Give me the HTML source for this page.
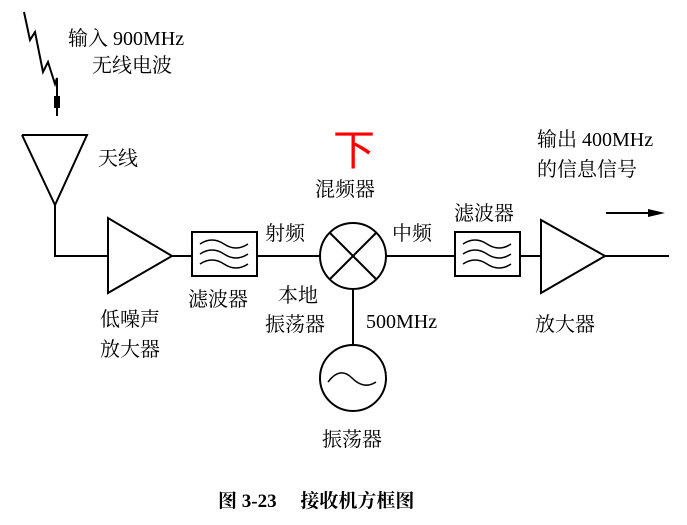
<!DOCTYPE html>
<html><head><meta charset="utf-8"><style>
html,body{margin:0;padding:0;background:#fff;}
svg{display:block;}
text{font-family:"Liberation Serif","Noto Serif CJK SC","Noto Sans CJK SC",serif;fill:#000;font-size:20px;}
</style></head><body>
<svg width="687" height="525" viewBox="0 0 687 525" xmlns="http://www.w3.org/2000/svg">
<g stroke="#000" stroke-width="2" fill="none">
<polyline points="24,12 30,40 35,32 43,72 48,62 55,84 57,78 57,116"/>
<polyline points="22,135 87,135 55,205 22,135"/>
<polyline points="55,205 55,256 108,256"/>
<polygon points="108,218 108,293 172,256"/>
<line x1="172" y1="256" x2="192" y2="256"/>
<rect x="192" y="232" width="65" height="44"/>
<path d="M200,244 q12,-8 24,0 t24,0 M200,254 q12,-8 24,0 t24,0 M200,264 q12,-8 24,0 t24,0" stroke-width="1.5"/>
<line x1="257" y1="256" x2="320" y2="256"/>
<circle cx="353" cy="256" r="33"/>
<line x1="330" y1="233" x2="376" y2="279"/>
<line x1="376" y1="233" x2="330" y2="279"/>
<line x1="386" y1="256" x2="455" y2="256"/>
<rect x="455" y="232" width="65" height="44"/>
<path d="M463,244 q12,-8 24,0 t24,0 M463,254 q12,-8 24,0 t24,0 M463,264 q12,-8 24,0 t24,0" stroke-width="1.5"/>
<line x1="520" y1="256" x2="541" y2="256"/>
<polygon points="541,220 541,293 605,256"/>
<line x1="605" y1="256" x2="669" y2="256"/>
<line x1="606" y1="213" x2="652" y2="213"/>
<line x1="353" y1="289" x2="353" y2="345"/>
<circle cx="353" cy="378" r="33"/>
<path d="M328,382 q12,-16 24,-4 t24,4" stroke-width="1.5"/>
</g>
<rect x="54" y="96" width="6" height="12" fill="#000"/>
<polygon points="648,209 665,213 648,217" fill="#000"/>
<text x="68" y="45">输入 900MHz</text>
<text x="92" y="72">无线电波</text>
<text x="98" y="165">天线</text>
<text x="315" y="196">混频器</text>
<text x="333" y="165" style="fill:#f00;font-size:42px;font-family:'Noto Sans CJK SC',sans-serif">下</text>
<text x="265" y="240">射频</text>
<text x="392" y="240">中频</text>
<text x="454" y="220">滤波器</text>
<text x="188" y="306">滤波器</text>
<text x="278" y="302">本地</text>
<text x="265" y="331">振荡器</text>
<text x="366" y="328">500MHz</text>
<text x="100" y="326">低噪声</text>
<text x="100" y="356">放大器</text>
<text x="535" y="331">放大器</text>
<text x="322" y="446">振荡器</text>
<text x="537" y="146">输出 400MHz</text>
<text x="537" y="176">的信息信号</text>
<text x="218" y="507" style="font-size:19px;font-weight:bold">图 3-23　 接收机方框图</text>
</svg>
</body></html>
